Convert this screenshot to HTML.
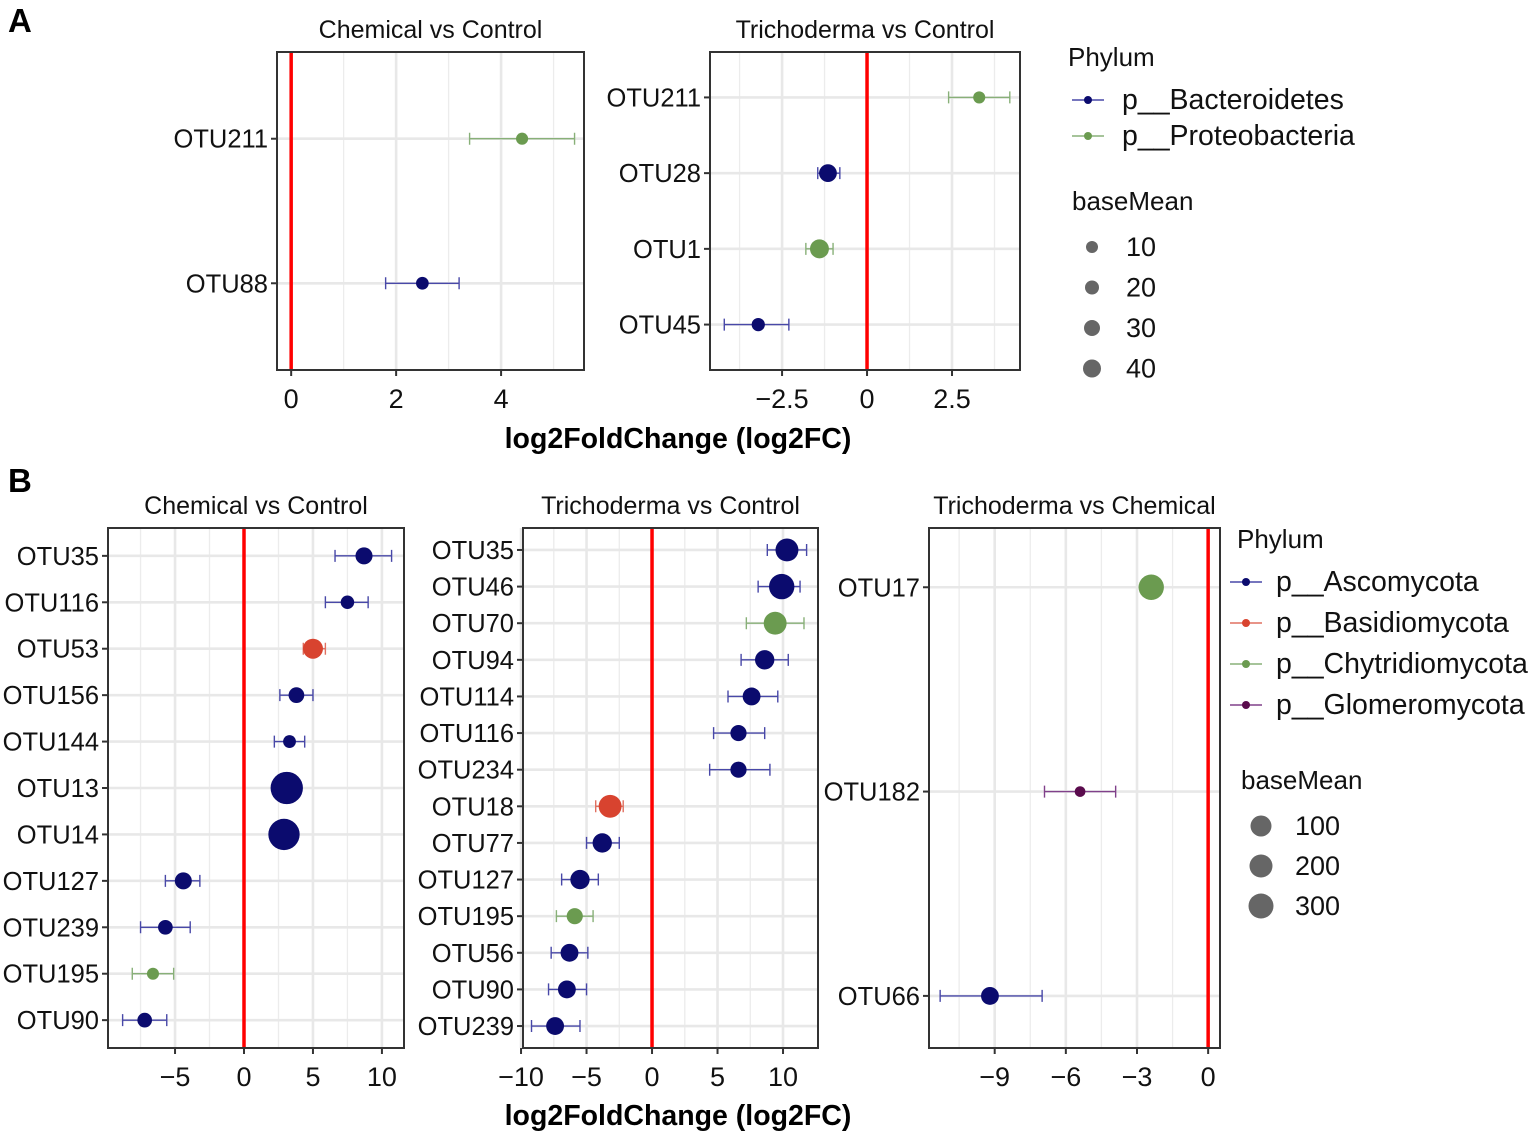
<!DOCTYPE html>
<html><head><meta charset="utf-8"><style>
body{margin:0;background:#fff;}
svg{display:block;font-family:"Liberation Sans",Arial,sans-serif;}
</style></head><body>
<svg id="fig" width="1535" height="1137" viewBox="0 0 1535 1137">
<text x="8" y="32" font-size="33" font-weight="bold">A</text>
<text x="8" y="492" font-size="33" font-weight="bold">B</text>
<text x="678" y="448" font-size="28.5" font-weight="bold" text-anchor="middle">log2FoldChange (log2FC)</text>
<text x="678" y="1125" font-size="28.5" font-weight="bold" text-anchor="middle">log2FoldChange (log2FC)</text>
</svg>
<script>
// ---- data ----
const a1Cats=["OTU211","OTU88"];
const a1Val=[4.4,2.5];const a1Lo=[3.4,1.8];const a1Hi=[5.4,3.2];
const a1Phy=["Proteobacteria","Bacteroidetes"];const a1Mean=[8,10];
const a2Cats=["OTU211","OTU28","OTU1","OTU45"];
const a2Val=[3.3,-1.15,-1.4,-3.2];const a2Lo=[2.4,-1.45,-1.8,-4.2];const a2Hi=[4.2,-0.8,-1.0,-2.3];
const a2Phy=["Proteobacteria","Bacteroidetes","Proteobacteria","Bacteroidetes"];const a2Mean=[8,36,44,12];
const b1Cats=["OTU35","OTU116","OTU53","OTU156","OTU144","OTU13","OTU14","OTU127","OTU239","OTU195","OTU90"];
const b1Val=[8.7,7.5,5.0,3.8,3.3,3.1,2.9,-4.4,-5.7,-6.6,-7.2];
const b1Lo=[6.6,5.9,4.3,2.6,2.2,2.6,2.4,-5.7,-7.5,-8.1,-8.8];
const b1Hi=[10.7,9.0,5.9,5.0,4.4,3.6,3.4,-3.2,-3.9,-5.1,-5.6];
const b1Phy=["Asco","Asco","Basidio","Asco","Asco","Asco","Asco","Asco","Asco","Chytri","Asco"];
const b1Mean=[60,25,100,45,20,380,350,60,35,15,35];
const b2Cats=["OTU35","OTU46","OTU70","OTU94","OTU114","OTU116","OTU234","OTU18","OTU77","OTU127","OTU195","OTU56","OTU90","OTU239"];
const b2Val=[10.3,9.9,9.4,8.6,7.6,6.6,6.6,-3.2,-3.8,-5.5,-5.9,-6.3,-6.5,-7.4];
const b2Lo=[8.8,8.1,7.2,6.8,5.8,4.7,4.4,-4.3,-5.0,-6.9,-7.3,-7.7,-7.9,-9.2];
const b2Hi=[11.8,11.3,11.6,10.4,9.6,8.6,9.0,-2.2,-2.5,-4.1,-4.5,-4.9,-5.0,-5.5];
const b2Phy=["Asco","Asco","Chytri","Asco","Asco","Asco","Asco","Basidio","Asco","Asco","Chytri","Asco","Asco","Asco"];
const b2Mean=[150,200,150,90,70,50,50,150,90,90,50,70,70,70];
const b3Cats=["OTU17","OTU182","OTU66"];
const b3Val=[-2.4,-5.4,-9.2];const b3Lo=[-2.65,-6.9,-11.3];const b3Hi=[-2.15,-3.9,-7.0];
const b3Phy=["Chytri","Glomero","Asco"];const b3Mean=[200,8,70];
// ---- styles ----
const COL={Bacteroidetes:"#0b0b6e",Proteobacteria:"#6b9b50",Asco:"#0b0b6e",Basidio:"#d8432f",Chytri:"#6b9b50",Glomero:"#5a0b4d"};
const ECOL={Bacteroidetes:"#4848a8",Proteobacteria:"#88b078",Asco:"#4848a8",Basidio:"#e07060",Chytri:"#88b078",Glomero:"#80408a"};
const svg=document.getElementById('fig');const NS="http://www.w3.org/2000/svg";
function el(t,a,p){const e=document.createElementNS(NS,t);for(const k in a)e.setAttribute(k,a[k]);(p||svg).appendChild(e);return e;}
function panel(o){
  const g=el('g',{});
  
  
  const W=o.x1-o.x0,H=o.y1-o.y0;
  const sx=v=>o.x0+(v-o.d0)/(o.d1-o.d0)*W;
  const n=o.cats.length,sp=H/(n-1+o.padT+o.padB);
  const sy=i=>o.y0+(i+o.padT)*sp;
  const t=el('text',{x:(o.x0+o.x1)/2,y:o.y0-14,'font-size':25,'text-anchor':'middle',fill:'#111'},g);t.textContent=o.title;
  
  
  o.minor.forEach(v=>{const l=el('line',{x1:sx(v),x2:sx(v),y1:o.y0,y2:o.y1,stroke:'#ececec','stroke-width':1.3},g);
    
    });
  o.ticks.forEach(v=>{const l=el('line',{x1:sx(v),x2:sx(v),y1:o.y0,y2:o.y1,stroke:'#e8e8e8','stroke-width':2.6},g);
    
    
    el('line',{x1:sx(v),x2:sx(v),y1:o.y1,y2:o.y1+6,stroke:'#333','stroke-width':2},g);
    const tx=el('text',{x:sx(v),y:o.y1+38,'font-size':27,'text-anchor':'middle',fill:'#111'},g);tx.textContent=(v<0?'\u2212'+(-v):v);
    
    });
  o.cats.forEach((c,i)=>{const y=sy(i);
    const l=el('line',{x1:o.x0,x2:o.x1,y1:y,y2:y,stroke:'#e8e8e8','stroke-width':2.6},g);
    
    
    el('line',{x1:o.x0-6,x2:o.x0,y1:y,y2:y,stroke:'#333','stroke-width':2},g);
    const tx=el('text',{x:o.x0-9,y:y+9,'font-size':25.5,'text-anchor':'end',fill:'#111'},g);tx.textContent=c;
    
    });
  const z=el('line',{x1:sx(0),x2:sx(0),y1:o.y0,y2:o.y1,stroke:'#ff0000','stroke-width':3.5},g);
  
  
  o.cats.forEach((c,i)=>{const y=sy(i),ec=ECOL[o.phy[i]],a=sx(o.lo[i]),b=sx(o.hi[i]);
    const eb=el('path',{d:`M${a},${y}H${b}M${a},${y-6}V${y+6}M${b},${y-6}V${y+6}`,stroke:ec,'stroke-width':1.4,fill:'none'},g);
    
    
    const r=o.rs(o.mean[i]);
    const p=el('circle',{cx:sx(o.val[i]),cy:y,r:r,fill:COL[o.phy[i]]},g);
    
    });
  const bx=el('rect',{x:o.x0,y:o.y0,width:W,height:H,fill:'none',stroke:'#333','stroke-width':2},g);
  
  
}
const rA=m=>3.5+Math.sqrt(m)*0.9;
const rB=m=>3.5+Math.sqrt(m)*0.65;
panel({name:'panel-a-chemical-vs-control',title:'Chemical vs Control',x0:277,x1:584,y0:52,y1:370,d0:-0.27,d1:5.58,padT:0.6,padB:0.6,cats:a1Cats,val:a1Val,lo:a1Lo,hi:a1Hi,phy:a1Phy,mean:a1Mean,ticks:[0,2,4],minor:[1,3,5],rs:rA});
panel({name:'panel-a-trichoderma-vs-control',title:'Trichoderma  vs Control',x0:710,x1:1020,y0:52,y1:370,d0:-4.62,d1:4.5,padT:0.6,padB:0.6,cats:a2Cats,val:a2Val,lo:a2Lo,hi:a2Hi,phy:a2Phy,mean:a2Mean,ticks:[-2.5,0,2.5],minor:[-3.75,-1.25,1.25,3.75],rs:rA});
panel({name:'panel-b-chemical-vs-control',title:'Chemical vs Control',x0:108,x1:404,y0:528,y1:1048,d0:-9.86,d1:11.6,padT:0.6,padB:0.6,cats:b1Cats,val:b1Val,lo:b1Lo,hi:b1Hi,phy:b1Phy,mean:b1Mean,ticks:[-5,0,5,10],minor:[-7.5,-2.5,2.5,7.5],rs:rB});
panel({name:'panel-b-trichoderma-vs-control',title:'Trichoderma  vs Control',x0:523,x1:818,y0:528,y1:1048,d0:-9.85,d1:12.67,padT:0.6,padB:0.6,cats:b2Cats,val:b2Val,lo:b2Lo,hi:b2Hi,phy:b2Phy,mean:b2Mean,ticks:[-10,-5,0,5,10],minor:[-7.5,-2.5,2.5,7.5],rs:rB});
panel({name:'panel-b-trichoderma-vs-chemical',title:'Trichoderma  vs Chemical',x0:929,x1:1220,y0:528,y1:1048,d0:-11.77,d1:0.5,padT:0.29,padB:0.255,cats:b3Cats,val:b3Val,lo:b3Lo,hi:b3Hi,phy:b3Phy,mean:b3Mean,ticks:[-9,-6,-3,0],minor:[-10.5,-7.5,-4.5,-1.5],rs:rB});
// ---- legends ----
function legend(name,x,y,items,sizeTitleY,sizes,radii,rowGap,sizeGap,labOff,lineOff){
  const g=el('g',{});
  
  
  let t=el('text',{x:x,y:y,'font-size':26,fill:'#111'},g);t.textContent='Phylum';
  items.forEach((it,i)=>{const yy=y+43+i*rowGap;
    const l=el('line',{x1:x+lineOff,x2:x+lineOff+32,y1:yy-9,y2:yy-9,stroke:ECOL[it[0]],'stroke-width':1.4},g);
    el('circle',{cx:x+lineOff+16,cy:yy-9,r:4,fill:COL[it[0]]},g);
    const tx=el('text',{x:x+labOff,y:yy,'font-size':28.5,fill:'#111'},g);tx.textContent=it[1];
    
    });
  t=el('text',{x:x+4,y:sizeTitleY,'font-size':26,fill:'#111'},g);t.textContent='baseMean';
  sizes.forEach((s,i)=>{const yy=sizeTitleY+46+i*sizeGap;
    el('circle',{cx:x+24,cy:yy-9,r:radii[i],fill:'#666'},g);
    const tx=el('text',{x:x+58,y:yy,'font-size':27,fill:'#111'},g);tx.textContent=s;
    
    });
}
legend('legend-a',1068,66,[["Bacteroidetes","p__Bacteroidetes"],["Proteobacteria","p__Proteobacteria"]],210,[10,20,30,40],[6,7,8,9],36,40.5,54,4);
legend('legend-b',1237,548,[["Asco","p__Ascomycota"],["Basidio","p__Basidiomycota"],["Chytri","p__Chytridiomycota"],["Glomero","p__Glomeromycota"]],789,[100,200,300],[10.5,11.5,12.5],41,40,39,-7);
</script>
</body></html>
